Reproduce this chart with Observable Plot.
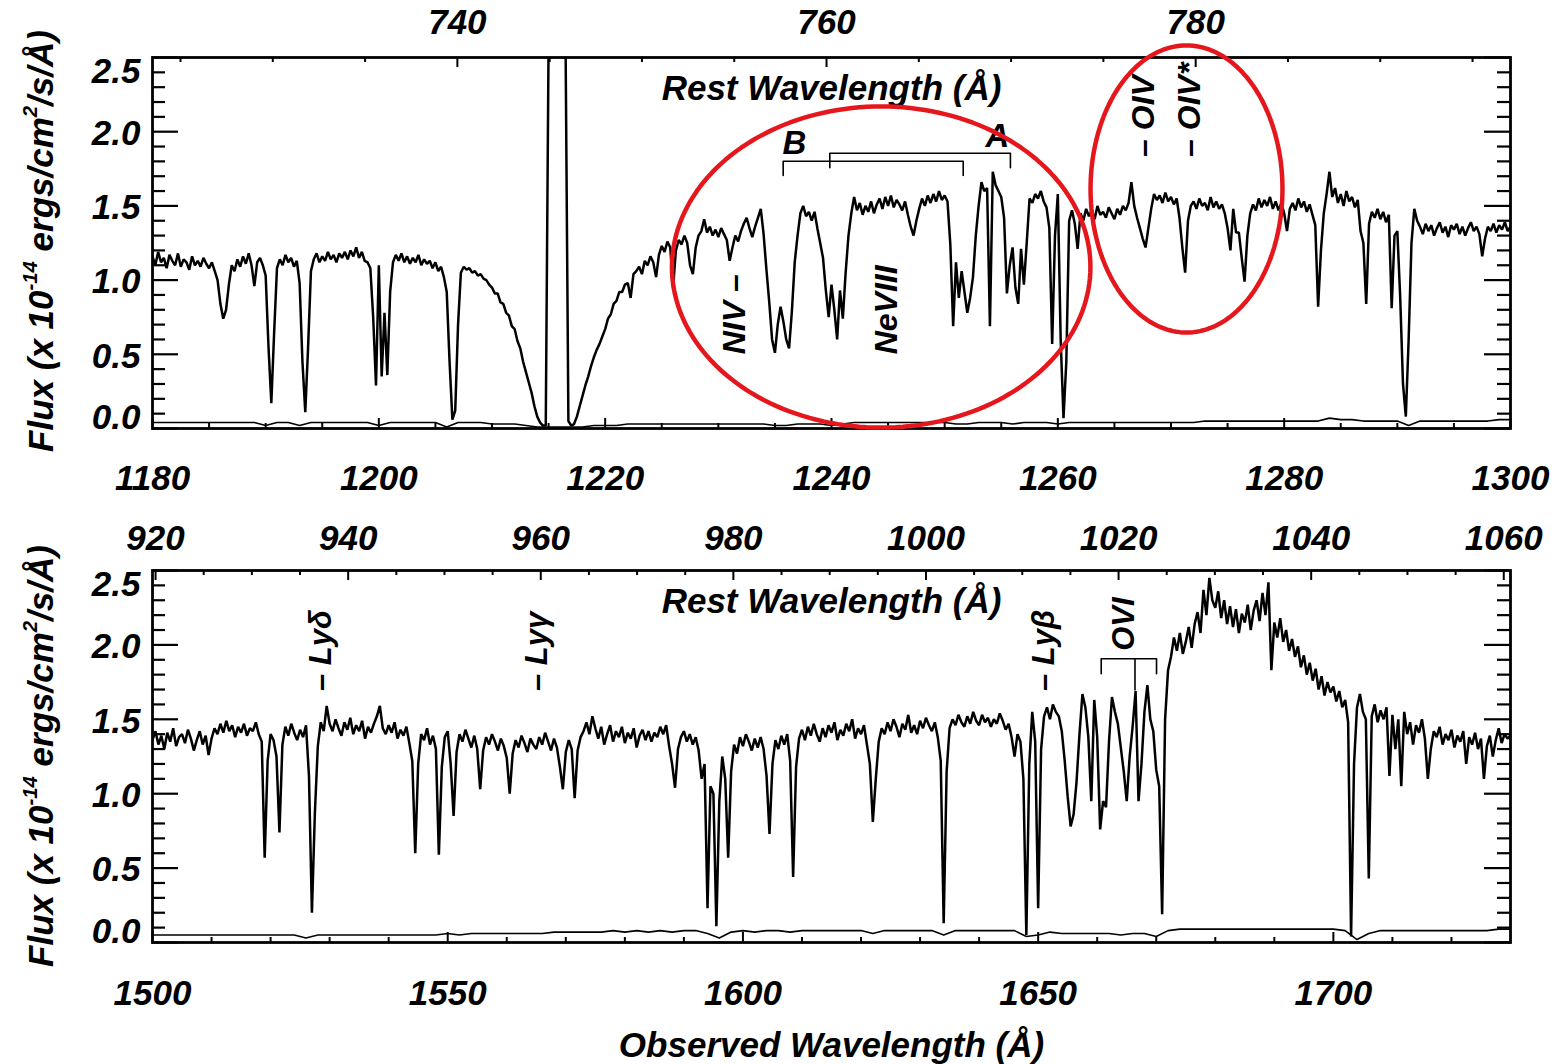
<!DOCTYPE html>
<html><head><meta charset="utf-8">
<script src="https://cdn.jsdelivr.net/npm/d3@7"></script>
<script src="https://cdn.jsdelivr.net/npm/@observablehq/plot@0.6"></script>
<style>
body{margin:0;background:#fff;}
#wrap{position:relative;width:1564px;height:1064px;overflow:hidden;background:#fff;font-family:"Liberation Sans",Arial,sans-serif;}
#wrap svg{position:absolute;left:0;overflow:visible;}
.ylab{position:absolute;font-weight:bold;font-style:italic;font-size:35px;white-space:nowrap;transform:translate(-50%,-50%) rotate(-90deg);line-height:1;}
.ylab sup{font-size:0.58em;vertical-align:0.75em;line-height:0;}
</style></head><body><div id="wrap"></div>
<script>
// ---------------- DATA ----------------
const restFactor = 1.631; // 1 + z

// Top panel: observed wavelength grid 1180..1300, step 0.25 A
const topStart = 1180, topStep = 0.25;
const topFlux = [
1.16,1.10,1.19,1.12, 1.15,1.08,1.17,1.13, 1.10,1.18,1.09,1.14, 1.12,1.07,1.16,1.10, 1.13,1.09,1.15,1.11,
1.08,1.12,1.06,1.00, 0.84,0.74,0.80,0.97, 1.10,1.06,1.14,1.09, 1.16,1.11,1.18,1.10, 0.96,1.12,1.15,1.10,
1.03,0.55,0.17,0.65, 1.08,1.14,1.10,1.17, 1.12,1.15,1.09,1.13, 0.98,0.45,0.11,0.55, 1.06,1.14,1.18,1.12,
1.16,1.13,1.19,1.14, 1.17,1.12,1.18,1.15, 1.19,1.14,1.20,1.16, 1.22,1.15,1.19,1.13, 1.12,1.08,0.75,0.29,
1.10,0.35,0.78,0.36, 0.92,1.12,1.17,1.13, 1.18,1.12,1.16,1.11, 1.15,1.12,1.17,1.10, 1.14,1.11,1.13,1.08,
1.12,1.06,1.09,1.02, 0.92,0.45,0.06,0.12, 0.70,1.05,1.09,1.07, 1.08,1.05,1.06,1.03, 1.04,1.01,1.00,0.97,
0.95,0.91,0.91,0.85, 0.84,0.78,0.76,0.69, 0.67,0.59,0.54,0.45, 0.38,0.31,0.24,0.15, 0.08,0.04,0.02,0.02,
2.60,2.60,2.60,2.60, 2.60,2.60,2.60,0.05, 0.02,0.03,0.08,0.15, 0.22,0.29,0.35,0.42, 0.48,0.53,0.57,0.62,
0.67,0.74,0.77,0.84, 0.86,0.92,0.92,0.97, 0.98,0.88,1.04,1.06, 1.09,1.04,1.13,1.10, 1.16,1.12,1.02,1.17,
1.23,1.19,1.26,1.22, 0.95,1.20,1.27,1.24, 1.30,1.25,1.10,1.04, 1.22,1.30,1.33,1.41, 1.32,1.36,1.30,1.34,
1.29,1.35,1.31,1.27, 1.13,1.22,1.30,1.26, 1.33,1.38,1.42,1.35, 1.29,1.36,1.42,1.48, 1.31,1.07,0.85,0.60,
0.51,0.70,0.82,0.72, 0.60,0.54,0.79,1.12, 1.30,1.45,1.50,1.43, 1.46,1.40,1.46,1.35, 1.25,1.15,0.93,0.75,
0.97,0.80,0.60,0.93, 0.74,1.05,1.30,1.45, 1.56,1.47,1.52,1.44, 1.50,1.46,1.53,1.45, 1.51,1.55,1.48,1.56,
1.50,1.57,1.49,1.54, 1.51,1.47,1.53,1.44, 1.36,1.30,1.40,1.48, 1.55,1.50,1.57,1.52, 1.58,1.53,1.60,1.54,
1.57,1.53,1.24,0.69, 1.12,0.88,1.06,0.92, 0.78,0.88,1.02,1.30, 1.50,1.66,1.60,1.62, 0.69,1.73,1.64,1.60,
1.56,1.42,0.91,1.10, 1.22,0.95,0.84,1.21, 0.97,1.25,1.55,1.52, 1.58,1.55,1.60,1.53, 1.49,1.35,0.57,1.30,
1.58,0.60,0.07,0.45, 1.40,1.47,1.38,1.21, 1.45,1.40,1.48,1.43, 1.47,1.41,1.50,1.44, 1.46,1.42,1.49,1.45,
1.41,1.48,1.44,1.50, 1.47,1.52,1.66,1.50, 1.42,1.35,1.28,1.22, 1.35,1.48,1.58,1.54, 1.57,1.52,1.59,1.53,
1.56,1.51,1.55,1.42, 1.22,1.05,1.40,1.50, 1.53,1.48,1.55,1.50, 1.52,1.47,1.56,1.49, 1.53,1.48,1.51,1.45,
1.35,1.20,1.48,1.32, 1.32,1.15,0.99,1.30, 1.45,1.51,1.47,1.55, 1.49,1.54,1.50,1.56, 1.48,1.53,1.47,1.52,
1.45,1.33,1.48,1.52, 1.47,1.55,1.49,1.53, 1.46,1.51,1.44,1.37, 0.82,1.20,1.45,1.58, 1.73,1.56,1.62,1.52,
1.58,1.50,1.60,1.53, 1.56,1.49,1.54,1.33, 1.25,0.84,1.38,1.46, 1.42,1.48,1.41,1.46, 1.39,1.44,0.81,1.30,
1.33,0.89,0.30,0.08, 0.60,1.25,1.48,1.40, 1.36,1.31,1.38,1.33, 1.37,1.30,1.35,1.39, 1.32,1.36,1.29,1.37,
1.34,1.38,1.31,1.36, 1.30,1.35,1.39,1.33, 1.36,1.31,1.16,1.28, 1.36,1.33,1.38,1.32, 1.37,1.34,1.39,1.33,
1.36];

// Top panel error spectrum: 1180..1300, step 1 A
const topErrStart = 1180, topErrStep = 1;
const topErr = [
0.04,0.04,0.04,0.04,0.04,0.04,0.04,0.04,0.04,0.04,
0.02,0.04,0.04,0.02,0.04,0.04,0.04,0.04,0.04,0.04,
0.02,0.04,0.04,0.04,0.04,0.04,0.01,0.04,0.04,0.04,
0.03,0.03,0.03,0.02,0.01,0.01,0.01,0.01,0.01,0.02,
0.02,0.02,0.03,0.03,0.03,0.03,0.03,0.03,0.03,0.03,
0.03,0.03,0.03,0.03,0.03,0.02,0.02,0.03,0.03,0.03,
0.02,0.03,0.04,0.04,0.04,0.04,0.04,0.04,0.04,0.04,
0.04,0.03,0.03,0.04,0.04,0.04,0.03,0.04,0.04,0.04,
0.03,0.04,0.04,0.04,0.04,0.04,0.04,0.04,0.04,0.04,
0.04,0.04,0.04,0.05,0.05,0.05,0.05,0.05,0.05,0.05,
0.05,0.05,0.05,0.05,0.07,0.06,0.06,0.05,0.05,0.05,
0.05,0.02,0.05,0.05,0.05,0.05,0.05,0.05,0.05,0.06,
0.06];

// Bottom panel: observed wavelength grid 1500..1730, step 0.5 A
const botStart = 1500, botStep = 0.5;
const botFlux = [
1.36,1.42,1.33,1.39,1.30,1.41,1.35,1.44,1.32,1.38,
1.40,1.34,1.43,1.37,1.29,1.36,1.42,1.33,1.39,1.26,
1.37,1.44,1.40,1.47,1.41,1.49,1.42,1.46,1.38,1.45,
1.41,1.47,1.39,1.44,1.42,1.48,1.40,1.35,0.57,1.22,
1.40,1.36,1.25,0.74,1.33,1.45,1.39,1.47,1.41,1.36,
1.43,1.38,1.46,1.12,0.20,0.87,1.32,1.48,1.42,1.59,
1.47,1.42,1.50,1.44,1.39,1.48,1.43,1.51,1.40,1.46,
1.42,1.49,1.37,1.45,1.41,1.47,1.52,1.59,1.44,1.40,
1.46,1.41,1.48,1.37,1.43,1.39,1.45,1.34,1.22,0.60,
1.20,1.40,1.36,1.44,1.33,1.39,1.30,0.59,1.18,1.38,
1.42,1.20,0.85,1.28,1.40,1.35,1.43,1.37,1.31,1.39,
1.30,1.03,1.29,1.38,1.33,1.40,1.35,1.29,1.37,1.32,
1.24,1.00,1.27,1.36,1.31,1.39,1.34,1.28,1.37,1.33,
1.30,1.38,1.33,1.41,1.35,1.29,1.37,1.31,1.18,1.03,
1.28,1.36,1.30,0.97,1.29,1.38,1.42,1.48,1.40,1.52,
1.44,1.37,1.45,1.33,1.40,1.46,1.35,1.42,1.38,1.45,
1.34,1.41,1.37,1.44,1.31,1.39,1.43,1.36,1.42,1.35,
1.41,1.38,1.45,1.40,1.46,1.32,1.20,1.04,1.30,1.38,
1.42,1.35,1.40,1.33,1.38,1.29,1.10,1.20,0.23,1.05,
1.00,0.11,0.95,1.25,1.10,0.57,1.15,1.33,1.27,1.38,
1.32,1.40,1.35,1.29,1.37,1.31,1.38,1.30,1.12,0.73,
1.20,1.36,1.30,1.39,1.33,1.40,1.22,0.44,1.18,1.37,
1.43,1.36,1.45,1.39,1.47,1.40,1.35,1.44,1.38,1.46,
1.41,1.48,1.36,1.43,1.39,1.47,1.42,1.50,1.37,1.44,
1.40,1.46,1.33,1.20,0.81,1.10,1.35,1.44,1.40,1.48,
1.42,1.50,1.45,1.38,1.47,1.43,1.53,1.41,1.46,1.40,
1.49,1.44,1.51,1.46,1.42,1.48,1.38,1.22,0.13,1.15,
1.44,1.50,1.46,1.53,1.48,1.45,1.52,1.47,1.55,1.49,
1.46,1.53,1.48,1.51,1.45,1.50,1.47,1.54,1.49,1.43,
1.47,1.38,1.25,1.40,1.35,1.10,0.05,1.20,1.55,1.35,
0.23,1.30,1.52,1.58,1.50,1.60,1.55,1.52,1.42,1.22,
0.98,0.78,0.86,1.08,1.40,1.67,1.58,1.38,0.95,1.63,
1.38,0.76,0.95,0.91,1.35,1.65,1.55,1.47,1.31,1.15,
0.95,1.25,1.45,1.69,0.95,1.20,1.55,1.73,1.50,1.42,
1.16,1.05,0.19,1.50,1.83,1.92,2.05,1.96,2.08,1.94,
2.02,2.12,1.98,2.14,2.22,2.08,2.37,2.20,2.45,2.30,
2.25,2.36,2.18,2.30,2.14,2.26,2.12,2.24,2.08,2.21,
2.15,2.27,2.10,2.23,2.30,2.16,2.35,2.20,2.42,1.83,
2.15,2.05,2.18,2.02,2.10,1.96,2.04,1.92,1.99,1.85,
1.93,1.80,1.88,1.76,1.84,1.70,1.79,1.66,1.75,1.68,
1.72,1.62,1.69,1.58,1.63,1.48,0.04,1.20,1.58,1.67,
1.55,1.50,0.43,1.52,1.60,1.48,1.56,1.50,1.58,1.12,
1.53,1.30,1.50,1.05,1.55,1.40,1.48,1.33,1.46,1.41,
1.50,1.37,1.10,1.30,1.42,1.38,1.45,1.33,1.40,1.36,
1.43,1.31,1.39,1.35,1.42,1.20,1.38,1.33,1.41,1.30,
1.37,1.10,1.32,1.39,1.25,1.36,1.44,1.34,1.40,1.37,
1.39];

// Bottom panel error spectrum: 1500..1730, step 2 A
const botErrStart = 1500, botErrStep = 2;
const botErr = [
0.05,0.05,0.05,0.05,0.05,0.05,0.05,0.05,0.05,0.05,
0.05,0.05,0.05,0.03,0.05,0.05,0.05,0.05,0.05,0.05,
0.05,0.05,0.05,0.05,0.05,0.06,0.05,0.06,0.06,0.06,
0.06,0.06,0.06,0.06,0.07,0.07,0.07,0.07,0.07,0.08,
0.07,0.08,0.07,0.08,0.07,0.08,0.08,0.06,0.03,0.07,
0.08,0.07,0.08,0.08,0.07,0.08,0.08,0.08,0.08,0.08,
0.08,0.06,0.08,0.08,0.08,0.08,0.08,0.05,0.08,0.08,
0.08,0.08,0.08,0.08,0.04,0.05,0.07,0.06,0.06,0.06,
0.06,0.06,0.05,0.06,0.06,0.04,0.08,0.09,0.09,0.09,
0.09,0.09,0.09,0.09,0.09,0.09,0.09,0.09,0.09,0.09,
0.09,0.08,0.02,0.06,0.08,0.08,0.08,0.08,0.08,0.08,
0.08,0.08,0.08,0.08,0.09,
0.09];

// Axis ticks
const topObsTicks = [1180, 1200, 1220, 1240, 1260, 1280, 1300];
const topRestTicks = [740, 760, 780];
const botObsTicks = [1500, 1550, 1600, 1650, 1700];
const botRestTicks = [920, 940, 960, 980, 1000, 1020, 1040, 1060];
const yTicks = [0, 0.5, 1.0, 1.5, 2.0, 2.5];

// Annotations (observed wavelength, flux)
const topLineLabels = [
  {w: 1231.43, f: 0.50, t: "NIV –"},
  {w: 1244.84, f: 0.50, t: "NeVIII"},
  {w: 1267.60, f: 1.83, t: "– OIV"},
  {w: 1271.66, f: 1.83, t: "– OIV*"}
];
const topSystemLabels = [
  {w: 1236.73, f: 1.92, t: "B"},
  {w: 1254.67, f: 1.97, t: "A"}
];
const topBrackets = [
  {x1: 1235.73, x2: 1251.64, top: 1.801, foot: 1.705},
  {x1: 1239.85, x2: 1255.81, top: 1.855, foot: 1.757}
];
const botLineLabels = [
  {w: 1528.57, f: 1.69, t: "– Lyδ"},
  {w: 1565.16, f: 1.69, t: "– Lyγ"},
  {w: 1650.96, f: 1.69, t: "– Lyβ"},
  {w: 1664.52, f: 1.96, t: "OVI"}
];
const botBrackets = [{x1: 1660.68, x2: 1670.05, top: 1.907, foot: 1.806}];
const botStems = [{w: 1666.4, f1: 1.69, f2: 1.907}];
const topEllipses = [
  {cx: 1244.39, cy: 1.088, rx: 18.49, ry: 1.082},
  {cx: 1271.37, cy: 1.614, rx: 8.48, ry: 0.967}
];

// ---------------- HELPERS ----------------
const FONT = '"Liberation Sans", Arial, Helvetica, sans-serif';
const txt = {fontFamily: FONT, fontWeight: "bold", fontStyle: "italic"};
const spectrum = (start, step, arr) => arr.map((f, i) => ({w: +(start + i * step).toFixed(3), f}));
const bracketPts = list => list.flatMap((b, i) => [
  {x: b.x1, y: b.foot, id: i}, {x: b.x1, y: b.top, id: i},
  {x: b.x2, y: b.top, id: i}, {x: b.x2, y: b.foot, id: i}]);
const ellipsePts = list => list.flatMap((e, i) => d3.range(0, 362, 2).map(a => ({
  x: e.cx + e.rx * Math.cos(a * Math.PI / 180),
  y: e.cy + e.ry * Math.sin(a * Math.PI / 180), id: i})));
const yMinor = d3.range(1, 25).filter(i => i % 5).map(i => i / 10);

function panel(o) {
  const fw = o.width - o.ml - o.mr, fh = o.height - o.mt - o.mb;
  const [x0, x1] = o.xDomain;
  const restMinor = d3.range(Math.ceil(x0 / restFactor / 5) * 5, x1 / restFactor, 5)
    .filter(r => !o.restTicks.includes(r));
  const marks = [
    Plot.line(o.err, {x: "w", y: "f", stroke: "black", strokeWidth: 1.6, clip: true}),
    Plot.line(o.flux, {x: "w", y: "f", stroke: "black", strokeWidth: 2.5, strokeLinejoin: "miter", clip: true}),
    // inward ticks
    Plot.tickX(o.obsTicks, {x: d => d, insetTop: fh - 10, strokeWidth: 2}),
    Plot.tickX(o.obsMinor, {x: d => d, insetTop: fh - 5, strokeWidth: 2}),
    Plot.tickX(o.restTicks, {x: d => d * restFactor, insetBottom: fh - 10, strokeWidth: 2}),
    Plot.tickX(restMinor, {x: d => d * restFactor, insetBottom: fh - 5, strokeWidth: 2}),
    Plot.tickY(yTicks, {y: d => d, insetRight: fw - 26, strokeWidth: 2.2}),
    Plot.tickY(yMinor, {y: d => d, insetRight: fw - 13, strokeWidth: 2.2}),
    Plot.tickY(yTicks, {y: d => d, insetLeft: fw - 26, strokeWidth: 2.2}),
    Plot.tickY(yMinor, {y: d => d, insetLeft: fw - 13, strokeWidth: 2.2}),
    Plot.frame({stroke: "black", strokeWidth: 2.8}),
    // tick labels
    Plot.text(o.obsTicks, {x: d => d, text: d => String(d), frameAnchor: "bottom", lineAnchor: "middle", dy: o.bottomDy, fontSize: 35, ...txt}),
    Plot.text(o.restTicks, {x: d => d * restFactor, text: d => String(d), frameAnchor: "top", lineAnchor: "middle", dy: o.topDy, fontSize: 35, ...txt}),
    Plot.text(yTicks.filter(v => v > 0 && v < 2.5), {y: d => d, text: d => d.toFixed(1), frameAnchor: "left", lineAnchor: "middle", dx: -12, dy: 2, textAnchor: "end", fontSize: 35, ...txt}),
    Plot.text(yTicks.filter(v => v === 2.5), {y: d => d, text: d => d.toFixed(1), frameAnchor: "left", lineAnchor: "middle", dx: -12, dy: 14, textAnchor: "end", fontSize: 35, ...txt}),
    Plot.text(yTicks.filter(v => v === 0), {y: d => d, text: d => d.toFixed(1), frameAnchor: "left", lineAnchor: "middle", dx: -12, dy: -11, textAnchor: "end", fontSize: 35, ...txt}),
    Plot.text(["Rest Wavelength (Å)"], {text: d => d, frameAnchor: "top", lineAnchor: "middle", dy: 31, fontSize: 35, ...txt}),
    // annotations
    Plot.line(bracketPts(o.brackets), {x: "x", y: "y", z: "id", stroke: "black", strokeWidth: 1.6}),
    Plot.text(o.lineLabels, {x: "w", y: "f", text: "t", rotate: -90, textAnchor: "start", lineAnchor: "middle", fontSize: o.labelSize, ...txt}),
    ...(o.extra || [])
  ];
  return Plot.plot({
    width: o.width, height: o.height,
    marginTop: o.mt, marginBottom: o.mb, marginLeft: o.ml, marginRight: o.mr,
    x: {domain: o.xDomain, axis: null},
    y: {domain: [0, 2.5], axis: null},
    style: {fontFamily: FONT, background: "transparent", overflow: "visible"},
    marks
  });
}

// ---------------- BUILD ----------------
const wrap = document.getElementById("wrap");

const topSvg = panel({
  width: 1564, height: 500, mt: 57, mb: 72, ml: 152, mr: 54,
  xDomain: [1180, 1300],
  flux: spectrum(topStart, topStep, topFlux),
  err: spectrum(topErrStart, topErrStep, topErr),
  obsTicks: topObsTicks,
  obsMinor: d3.range(1185, 1300, 5).filter(v => !topObsTicks.includes(v)),
  restTicks: topRestTicks,
  bottomDy: 50, topDy: -35,
  brackets: topBrackets,
  lineLabels: topLineLabels,
  labelSize: 32,
  extra: [
    Plot.text(topSystemLabels, {x: "w", y: "f", text: "t", lineAnchor: "middle", fontSize: 33, ...txt}),
    Plot.line(ellipsePts(topEllipses), {x: "x", y: "y", z: "id", stroke: "#e5171c", strokeWidth: 4.5, curve: "linear"})
  ]
});
topSvg.style.top = "0px";
wrap.appendChild(topSvg);

const botSvg = panel({
  width: 1564, height: 564, mt: 70, mb: 122, ml: 152, mr: 54,
  xDomain: [1500, 1730],
  flux: spectrum(botStart, botStep, botFlux),
  err: spectrum(botErrStart, botErrStep, botErr),
  obsTicks: botObsTicks,
  obsMinor: d3.range(1510, 1730, 10).filter(v => !botObsTicks.includes(v)),
  restTicks: botRestTicks,
  bottomDy: 51, topDy: -32,
  brackets: botBrackets,
  lineLabels: botLineLabels,
  labelSize: 31,
  extra: [
    Plot.ruleX(botStems, {x: "w", y1: "f1", y2: "f2", stroke: "black", strokeWidth: 1.6}),
    Plot.text(["Observed Wavelength (Å)"], {text: d => d, frameAnchor: "bottom", lineAnchor: "middle", dy: 103, fontSize: 35, ...txt})
  ]
});
botSvg.style.top = "500px";
wrap.appendChild(botSvg);

// Y-axis titles (with superscripts)
const yTitle = 'Flux (x 10<sup>-14</sup> ergs/cm<sup>2</sup>/s/Å)';
[[40, 241], [40, 756]].forEach(([cx, cy]) => {
  const d = document.createElement("div");
  d.className = "ylab";
  d.style.left = cx + "px";
  d.style.top = cy + "px";
  d.innerHTML = yTitle;
  wrap.appendChild(d);
});
</script>
</body></html>
